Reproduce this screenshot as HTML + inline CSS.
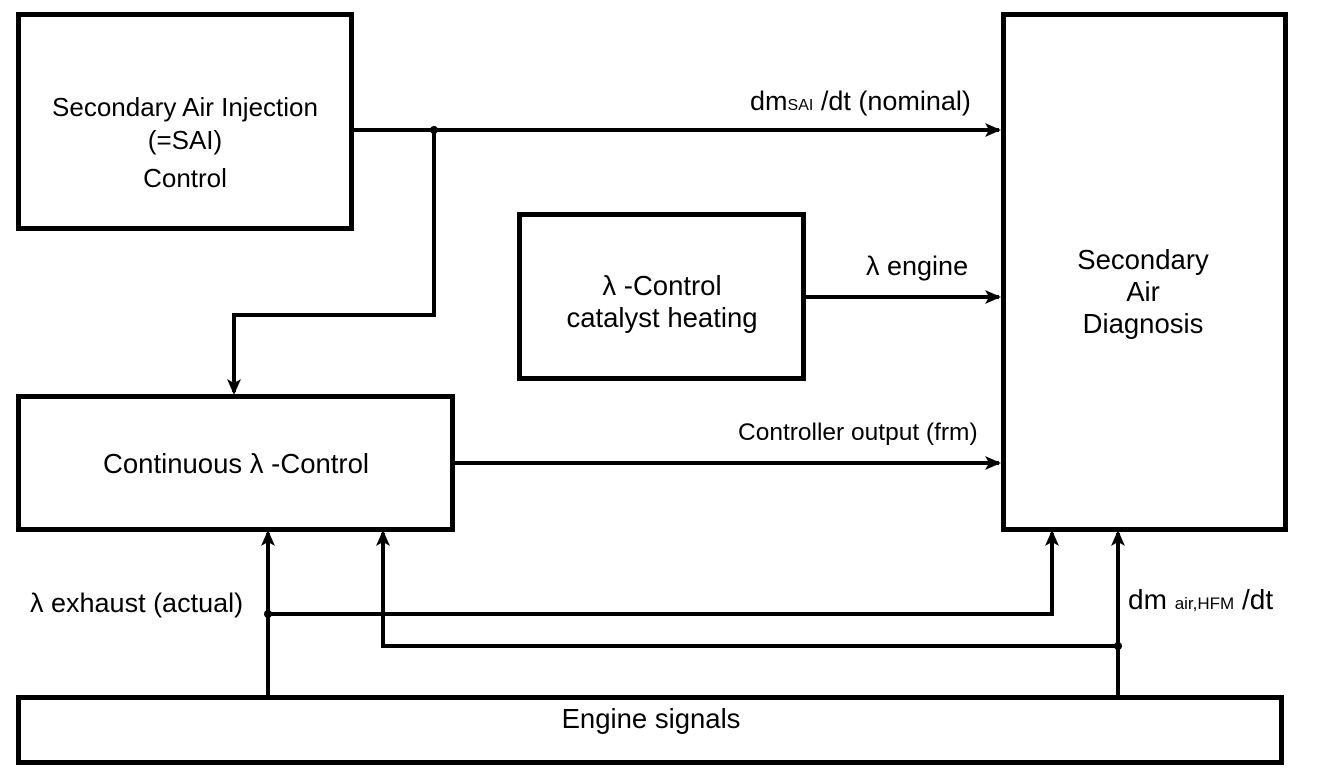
<!DOCTYPE html>
<html><head><meta charset="utf-8"><style>
html,body{margin:0;padding:0;background:#fff;}
svg{display:block;}
text{font-family:"Liberation Sans",sans-serif;fill:#000;}
</style></head><body>
<svg width="1328" height="780" viewBox="0 0 1328 780" xmlns="http://www.w3.org/2000/svg">
<g fill="none" stroke="#000" stroke-width="5">
<rect x="18.5" y="14.5" width="333" height="214"/>
<rect x="519.5" y="214.5" width="284" height="164"/>
<rect x="18.5" y="396.5" width="434" height="133"/>
<rect x="1003.5" y="14.5" width="282" height="515"/>
<rect x="18.5" y="697.5" width="1263" height="65"/>
</g>
<g fill="none" stroke="#000" stroke-width="4">
<line x1="354" y1="130" x2="999" y2="130"/>
<polyline points="434,130 434,315 234,315 234,392"/>
<line x1="806" y1="297" x2="999" y2="297"/>
<line x1="455" y1="463" x2="999" y2="463"/>
<line x1="268" y1="695" x2="268" y2="533"/>
<polyline points="268,614 1052,614 1052,533"/>
<polyline points="383,533 383,646 1118,646"/>
<line x1="1118" y1="695" x2="1118" y2="533"/>
</g>
<g fill="#000">
<path d="M1001,130 l-16,-7 l4,7 l-4,7z"/>
<path d="M1001,297 l-16,-7 l4,7 l-4,7z"/>
<path d="M1001,463 l-16,-7 l4,7 l-4,7z"/>
<path d="M234,395 l-7,-16 l7,4 l7,-4z"/>
<path d="M268,530 l-7,16 l7,-4 l7,4z"/>
<path d="M383,530 l-7,16 l7,-4 l7,4z"/>
<path d="M1052,530 l-7,16 l7,-4 l7,4z"/>
<path d="M1118,530 l-7,16 l7,-4 l7,4z"/>
<circle cx="434" cy="130" r="4"/>
<circle cx="268" cy="614" r="4"/>
<circle cx="1118" cy="646" r="4"/>
</g>
<g font-size="26" text-anchor="middle">
<text x="185" y="116">Secondary Air Injection</text>
<text x="185" y="149">(=SAI)</text>
<text x="185" y="187">Control</text>
</g>
<g font-size="27.5" text-anchor="middle">
<text x="662" y="295">λ -Control</text>
<text x="662" y="327">catalyst heating</text>
<text x="236" y="473">Continuous λ -Control</text>
<text x="1143" y="269">Secondary</text>
<text x="1143" y="301">Air</text>
<text x="1143" y="333">Diagnosis</text>
<text x="651" y="728">Engine signals</text>
</g>
<g font-size="27">
<text x="750" y="110">dm<tspan font-size="16">SAI</tspan> /dt (nominal)</text>
<text x="866" y="275">λ engine</text>
<text x="738" y="440" font-size="24.5">Controller output (frm)</text>
<text x="30" y="612">λ exhaust (actual)</text>
<text x="1128" y="609" font-size="28">dm <tspan font-size="17">air,HFM</tspan> /dt</text>
</g>
</svg>
</body></html>
